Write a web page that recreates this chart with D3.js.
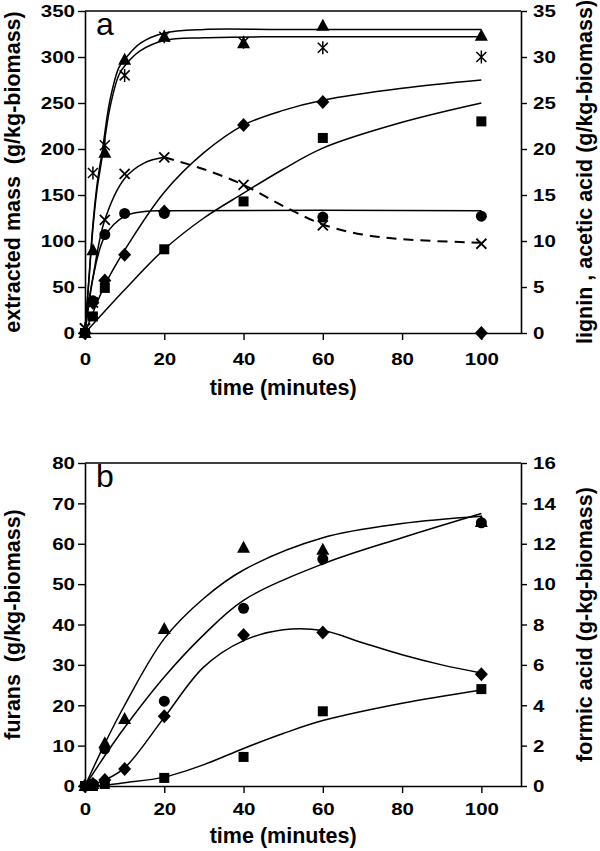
<!DOCTYPE html>
<html><head><meta charset="utf-8">
<script src="https://cdn.jsdelivr.net/npm/d3@7"></script>
<style>
html,body{margin:0;padding:0;background:#fff;}
svg text{font-family:"Liberation Sans",Arial,Helvetica,sans-serif;fill:#000;}
</style></head>
<body><svg id="c" width="600" height="851"></svg>
<script>
// ---------- DATA (panel a) ----------
const timeA = [0, 2, 5, 10, 20, 40, 60, 100];
const triA = [0, 90, 196, 297, 322, 315, 334, 323];          // left axis
const astA = [5, 174, 204, 280, 322, 316, 310, 300];         // left axis
const diaA = [0, 33, 57, 85, 132, 226, 251, 0];              // left axis
const timeSqA = [0, 2, 5, 20, 40, 60, 100];
const sqA = [0, 18, 49, 91, 143, 212, 230];                  // left axis
const timeCircA = [0, 2, 5, 10, 20, 60, 100];
const circA = [0, 3.5, 10.7, 13.0, 13.0, 12.6, 12.7];        // right axis (lignin)
const crossA = [0.5, 3.3, 12.3, 17.3, 19.1, 16.1, 11.7, 9.7]; // right axis (acetic acid)

// fitted curves (panel a)
const fitTimeTri = [0, 1, 2, 3, 4.4, 6.3, 8.6, 10.5, 14, 20, 30, 50, 100];
const fitTri = [0, 60, 118, 160, 199, 253, 289, 300, 315, 326, 330, 330, 330];
const fitAst = [0, 58, 114, 155, 193, 245, 281, 293, 307, 318, 321, 322, 322];
const fitTimeDia = [0, 2, 5, 10, 20, 30, 40, 50, 60, 80, 100];
const fitDia = [0, 22, 52, 90, 153, 196, 226, 242, 253, 266, 275];
const fitTimeSq = [0, 10, 20, 30, 40, 50, 60, 80, 100];
const fitSq = [0, 47, 91, 125, 152, 178, 201, 229, 250];
const fitTimeCirc = [0, 1, 2, 5, 10, 15, 20, 100];
const fitCirc = [0, 3.5, 6, 10.5, 12.7, 13.2, 13.3, 13.3];
const fitTimeCrossSolid = [0, 2, 5, 10, 15, 20];
const fitCrossSolid = [0, 6, 12.3, 16.8, 18.5, 19.1];
const fitTimeCrossDash = [20, 30, 40, 50, 60, 70, 80, 100];
const fitCrossDash = [19.1, 17.8, 16.1, 13.8, 11.8, 10.7, 10.2, 9.8];

// ---------- DATA (panel b) ----------
const timeB = [0, 2, 5, 10, 20, 40, 60, 100];
const triB = [0, 0.5, 10.6, 16.6, 38.9, 59, 58.5, 65.4];
const diaB = [0, 0.5, 1.5, 4.2, 17.3, 37.4, 38, 27.7];
const timeCircB = [0, 2, 5, 20, 40, 60, 100];
const circB = [0, 0.5, 9.2, 21, 44, 56.2, 65.2];
const timeSqB = [0, 2, 5, 20, 40, 60, 100];
const sqB = [0, 0, 0.1, 0.4, 1.44, 3.7, 4.8];                // right axis (formic acid)

const fitTimeB = [0, 5, 10, 20, 30, 40, 60, 80, 100];
const fitTriB = [0, 10.5, 20, 36.5, 46.5, 53.5, 61.5, 65, 66.8];
const fitCircB = [0, 7.5, 14.5, 27, 37.5, 46, 55, 61.5, 67.5];
const fitTimeDiaB = [0, 2, 5, 10, 20, 30, 40, 50, 60, 70, 80, 90, 100];
const fitDiaB = [0, 0.4, 1.5, 4.5, 17, 29.5, 36, 38.7, 38.5, 35.5, 32.5, 30, 28];
const fitTimeSqB = [0, 5, 10, 20, 30, 40, 50, 60, 80, 100];
const fitSqB = [0, 0.04, 0.16, 0.44, 1.06, 1.86, 2.6, 3.24, 4.1, 4.76];

// axis ticks / labels
const xTicks = [0, 20, 40, 60, 80, 100];
const yTicksAL = [0, 50, 100, 150, 200, 250, 300, 350];
const yTicksAR = [0, 5, 10, 15, 20, 25, 30, 35];
const yTicksBL = [0, 10, 20, 30, 40, 50, 60, 70, 80];
const yTicksBR = [0, 2, 4, 6, 8, 10, 12, 14, 16];

// ---------- DRAWING ----------
const svg = d3.select("#c");
const zip = (xs, ys) => xs.map((t, i) => [t, ys[i]]);

function panel(cfg) {
  const x = d3.scaleLinear().domain([0, 110]).range([85, 521]);
  const yL = d3.scaleLinear().domain(cfg.yL).range([cfg.bottom, cfg.top]);
  const yR = d3.scaleLinear().domain(cfg.yR).range([cfg.bottom, cfg.top]);
  const g = svg.append("g");
  // axes
  const ax = g.append("g").attr("transform", `translate(0,${cfg.bottom})`)
    .call(d3.axisBottom(x).tickValues(xTicks).tickSize(7).tickSizeOuter(0));
  ax.selectAll("text").attr("y", cfg.xLabOff).attr("dy", 0).attr("x", 0)
    .attr("transform", "scale(1.28,1)");
  const al = g.append("g").attr("transform", "translate(85,0)")
    .call(d3.axisLeft(yL).tickValues(cfg.ticksL).tickSize(7).tickSizeOuter(0));
  al.selectAll("text").attr("x", 0).attr("dy", "0.36em")
    .attr("transform", "translate(-10,0) scale(1.28,1)");
  const ar = g.append("g").attr("transform", "translate(521,0)")
    .call(d3.axisRight(yR).tickValues(cfg.ticksR).tickSize(6).tickSizeOuter(0));
  ar.selectAll("text").attr("x", 0).attr("dy", "0.36em")
    .attr("transform", "translate(12,0) scale(1.28,1)");
  g.append("line").attr("x1", 85).attr("x2", 521).attr("y1", cfg.top).attr("y2", cfg.top)
    .attr("stroke", "#000").attr("stroke-width", 1.6);
  g.selectAll(".domain").attr("stroke", "#000").attr("stroke-width", 1.6);
  g.selectAll(".tick line").attr("stroke", "#000").attr("stroke-width", 1.4);
  g.selectAll(".tick text").attr("font-size", 16).attr("font-weight", "bold")
    .attr("font-family", "Liberation Sans, Arial, sans-serif");

  // titles
  g.append("text").attr("x", x(50)).attr("y", cfg.bottom + cfg.titleOff)
    .attr("text-anchor", "middle").attr("font-size", 21.5).attr("font-weight", "bold")
    .text("time (minutes)");
  const mid = (cfg.top + cfg.bottom) / 2;
  g.append("text").attr("transform", `translate(20,${mid}) rotate(-90)`)
    .attr("text-anchor", "middle").attr("font-size", 21.5).attr("font-weight", "bold")
    .style("white-space", "pre")
    .text(cfg.titleL);
  g.append("text").attr("transform", `translate(592,${mid}) rotate(-90)`)
    .attr("text-anchor", "middle").attr("font-size", 21.5).attr("font-weight", "bold")
    .style("white-space", "pre")
    .text(cfg.titleR);
  g.append("text").attr("x", 96).attr("y", cfg.top + 24).attr("font-size", 32)
    .text(cfg.letter);

  const line = (scale) => d3.line().x(d => x(d[0])).y(d => scale(d[1]))
    .curve(d3.curveCatmullRom.alpha(0.5));
  cfg.fits.forEach(f => {
    g.append("path").attr("d", line(f.right ? yR : yL)(zip(f.t, f.v)))
      .attr("fill", "none").attr("stroke", "#000").attr("stroke-width", f.dash ? 2 : 1.5)
      .attr("stroke-dasharray", f.dash ? "10,7" : null);
  });
  cfg.points.forEach(p => {
    const sc = p.right ? yR : yL;
    zip(p.t, p.v).forEach(d => drawMarker(g, p.m, x(d[0]), sc(d[1])));
  });
}

function drawMarker(g, m, cx, cy) {
  const s = g.append("g").attr("transform", `translate(${cx},${cy})`);
  if (m === "tri") s.append("path").attr("d", "M0,-7L6.5,5L-6.5,5Z").attr("fill", "#000");
  else if (m === "circ") s.append("circle").attr("r", 5.5).attr("fill", "#000");
  else if (m === "dia") s.append("path").attr("d", "M0,-7L6.5,0L0,7L-6.5,0Z").attr("fill", "#000");
  else if (m === "sq") s.append("rect").attr("x", -5).attr("y", -5).attr("width", 10).attr("height", 10).attr("fill", "#000");
  else if (m === "cross") s.append("path").attr("d", "M-5,-5L5,5M-5,5L5,-5").attr("stroke", "#000").attr("stroke-width", 1.8);
  else if (m === "ast") s.append("path").attr("d", "M-5,-5L5,5M-5,5L5,-5M0,-6.5L0,6.5").attr("stroke", "#000").attr("stroke-width", 1.5);
}

panel({
  top: 11, bottom: 333, yL: [0, 350], yR: [0, 35], ticksL: yTicksAL, ticksR: yTicksAR,
  xLabOff: 32, titleOff: 62, letter: "a",
  titleL: "extracted mass  (g/kg-biomass)", titleR: "lignin , acetic acid (g/kg-biomass)",
  fits: [
    {t: fitTimeTri, v: fitTri}, {t: fitTimeTri, v: fitAst},
    {t: fitTimeDia, v: fitDia}, {t: fitTimeSq, v: fitSq},
    {t: fitTimeCirc, v: fitCirc, right: true},
    {t: fitTimeCrossSolid, v: fitCrossSolid, right: true},
    {t: fitTimeCrossDash, v: fitCrossDash, right: true, dash: true}
  ],
  points: [
    {m: "sq", t: timeSqA, v: sqA}, {m: "dia", t: timeA, v: diaA},
    {m: "circ", t: timeCircA, v: circA, right: true},
    {m: "cross", t: timeA, v: crossA, right: true},
    {m: "tri", t: timeA, v: triA}, {m: "ast", t: timeA, v: astA}
  ]
});

panel({
  top: 463, bottom: 786, yL: [0, 80], yR: [0, 16], ticksL: yTicksBL, ticksR: yTicksBR,
  xLabOff: 29, titleOff: 57, letter: "b",
  titleL: "furans  (g/kg-biomass)", titleR: "formic acid (g-kg-biomass)",
  fits: [
    {t: fitTimeB, v: fitTriB}, {t: fitTimeB, v: fitCircB},
    {t: fitTimeDiaB, v: fitDiaB}, {t: fitTimeSqB, v: fitSqB, right: true}
  ],
  points: [
    {m: "sq", t: timeSqB, v: sqB, right: true}, {m: "dia", t: timeB, v: diaB},
    {m: "circ", t: timeCircB, v: circB}, {m: "tri", t: timeB, v: triB}
  ]
});
</script></body></html>
